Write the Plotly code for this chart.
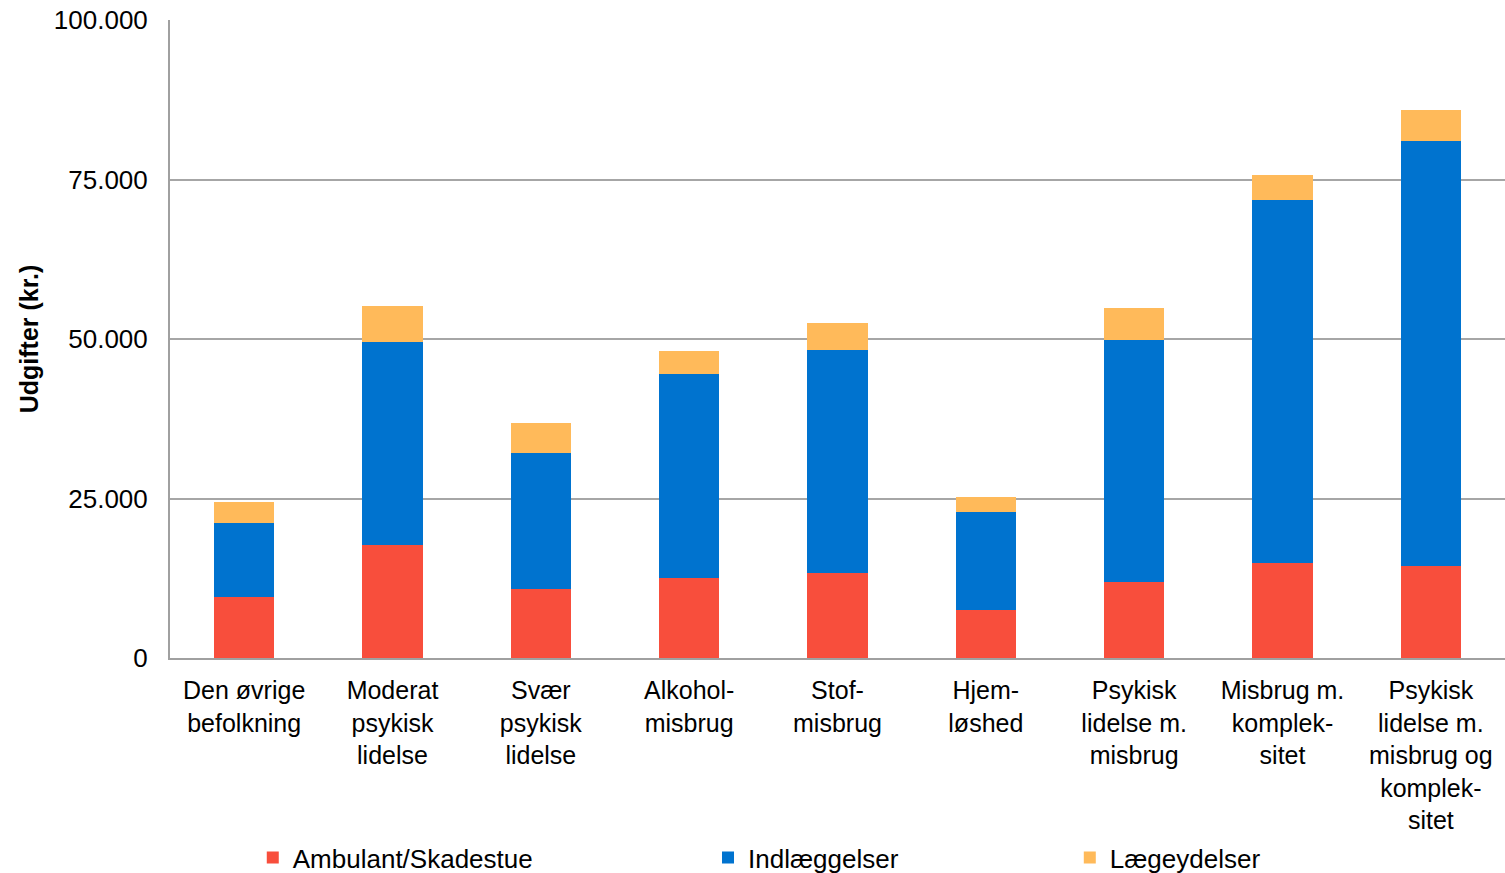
import plotly.graph_objects as go

categories = [
    "Den øvrige<br>befolkning",
    "Moderat<br>psykisk<br>lidelse",
    "Svær<br>psykisk<br>lidelse",
    "Alkohol-<br>misbrug",
    "Stof-<br>misbrug",
    "Hjem-<br>løshed",
    "Psykisk<br>lidelse m.<br>misbrug",
    "Misbrug m.<br>komplek-<br>sitet",
    "Psykisk<br>lidelse m.<br>misbrug og<br>komplek-<br>sitet",
]
ambulant = [9600, 17700, 10800, 12500, 13300, 7500, 11900, 14900, 14400]
indlaeggelser = [11600, 31800, 21300, 32000, 35000, 15400, 37900, 56900, 66600]
laegeydelser = [3300, 5700, 4700, 3600, 4200, 2300, 5100, 3900, 4900]

series_names = ["Ambulant/Skadestue", "Indlæggelser", "Lægeydelser"]
tick_vals = [0, 25000, 50000, 75000, 100000]
tick_text = ["0", "25.000", "50.000", "75.000", "100.000"]

colors = ["#F84E3C", "#0073CF", "#FFBA5A"]
legends = ["legend", "legend2", "legend3"]

fig = go.Figure()
for name, vals, col, lg in zip(series_names, [ambulant, indlaeggelser, laegeydelser], colors, legends):
    fig.add_trace(go.Bar(x=categories, y=vals, name=name, marker=dict(color=col, line=dict(width=0)),
                         legend=lg, showlegend=True))

FONT = "Liberation Sans, Arial, sans-serif"
leg_common = dict(orientation="h", yanchor="middle", xanchor="left", y=-0.313,
                  font=dict(size=26, color="#000000", family=FONT), bgcolor="rgba(0,0,0,0)",
                  visible=True)
fig.update_layout(
    barmode="stack",
    bargap=0.595,
    showlegend=True,
    width=1505, height=873,
    margin=dict(l=170, r=0, t=20, b=215, autoexpand=False),
    paper_bgcolor="white", plot_bgcolor="white",
    font=dict(family=FONT, size=26, color="#000000"),
    legend=dict(leg_common, x=0.062),
    legend2=dict(leg_common, x=0.403),
    legend3=dict(leg_common, x=0.674),
    xaxis=dict(showline=True, linecolor="#A0A0A0", linewidth=2, ticks="", showgrid=False,
               tickfont=dict(size=25), tickangle=0, automargin=False, ticklabelstandoff=9),
    yaxis=dict(range=[0, 100000], tickvals=tick_vals, ticktext=tick_text, showgrid=True,
               gridcolor="#A6A6A6", gridwidth=1.5, showline=True, linecolor="#A0A0A0", linewidth=2,
               ticks="", ticklabelstandoff=15, zeroline=False, tickfont=dict(size=26),
               automargin=False,
               title=dict(text="<b>Udgifter (kr.)</b>", font=dict(size=25), standoff=8)),
)
fig.write_html("out.html", config={"displayModeBar": False},
               post_script="document.body.style.margin='0';document.body.style.overflow='hidden';")
